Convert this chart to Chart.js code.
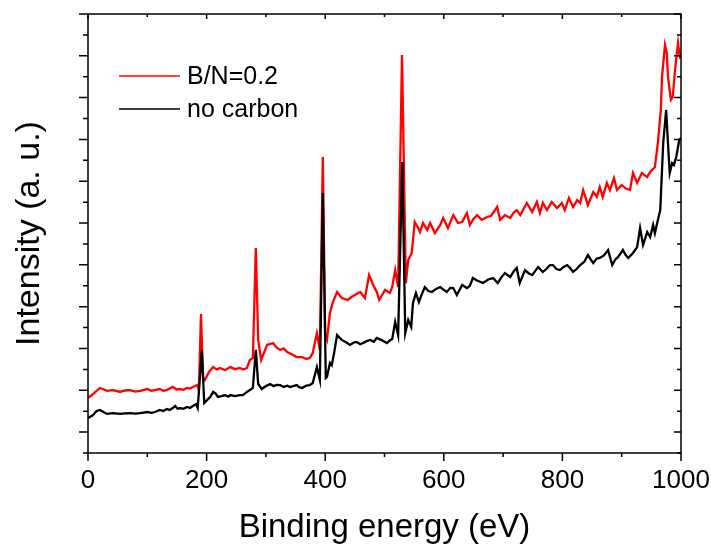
<!DOCTYPE html>
<html>
<head>
<meta charset="utf-8">
<script src="https://cdn.jsdelivr.net/npm/chart.js@4.4.1/dist/chart.umd.min.js"></script>
<style>
html, body { margin: 0; padding: 0; background: #fff; }
#wrap { width: 711px; height: 544px; }
</style>
</head>
<body>
<div id="wrap"><canvas id="chart" width="711" height="544"></canvas></div>
<script>
// XPS survey spectra, binding energy (eV) vs intensity (a.u.)
var seriesNames = ["B/N=0.2", "no carbon"];
var seriesColors = ["#ff0000", "#000000"];

var energyRed = [0, 10, 20, 26, 32, 42, 54, 62, 71, 80, 88, 100, 107, 113, 121, 127, 133, 143, 149, 155, 161, 167, 172, 177, 184, 187, 190.5, 194, 197, 204, 211, 217, 223, 231, 240, 248, 256, 262, 268, 273, 278, 283, 287, 292, 302, 312, 318, 324, 330, 336, 346, 352, 361, 368, 374, 379, 386, 391, 396, 400, 403, 408, 413, 420, 428, 438, 444, 450, 459, 467, 474, 481, 487, 491, 501, 509, 513, 518, 523, 529.5, 536, 540, 546, 551, 556, 560, 565, 572, 577, 585, 594, 599, 607, 616, 624, 631, 639, 644, 650, 656, 664, 673, 680, 690, 695, 703, 712, 718, 723, 729, 740, 749, 757, 762, 767, 774, 782, 791, 799, 804, 811, 818, 825, 830, 835, 843, 852, 858, 863, 868, 875, 880, 887, 892, 900, 907, 914, 919, 926, 934, 943, 948, 956, 961, 966, 968, 973, 976, 978, 983, 986, 990, 993, 995, 998, 1000];
var intensityRed = [263, 285, 311, 305, 297, 301, 292, 299, 301, 294, 297, 306, 298, 301, 306, 298, 301, 316, 304, 306, 302, 311, 308, 316, 325, 301, 665, 359, 349, 387, 411, 400, 407, 396, 411, 401, 407, 399, 407, 445, 454, 981, 541, 445, 517, 526, 505, 493, 500, 483, 469, 459, 459, 450, 454, 478, 574, 493, 1416, 564, 541, 670, 722, 770, 741, 732, 745, 756, 770, 741, 851, 804, 770, 732, 780, 765, 794, 875, 794, 1904, 813, 923, 957, 1105, 1080, 1057, 1100, 1067, 1100, 1052, 1091, 1124, 1076, 1138, 1100, 1105, 1148, 1091, 1120, 1138, 1115, 1129, 1135, 1177, 1115, 1138, 1124, 1150, 1162, 1138, 1196, 1153, 1201, 1148, 1196, 1162, 1201, 1172, 1196, 1162, 1220, 1177, 1210, 1196, 1258, 1186, 1248, 1225, 1272, 1225, 1292, 1258, 1315, 1258, 1282, 1265, 1258, 1339, 1292, 1339, 1320, 1344, 1368, 1483, 1641, 1799, 1952, 1913, 1799, 1689, 1703, 1832, 1913, 1961, 1894, 1900];

var energyBlack = [0, 8, 14, 20, 26, 32, 42, 54, 62, 71, 80, 88, 100, 107, 113, 121, 127, 133, 138, 143, 147, 151, 155, 161, 167, 172, 177, 182, 185, 192, 196, 201, 206, 211, 215, 219, 225, 231, 237, 240, 248, 256, 261, 267, 273, 278, 283, 287, 293, 300, 307, 313, 318, 324, 330, 336, 341, 346, 352, 356, 361, 368, 374, 379, 386, 391, 396, 401, 403, 408, 411, 415, 420, 424, 428, 435, 442, 448, 453, 459, 464, 470, 476, 482, 487, 495, 504, 509, 513, 518, 523, 530, 535, 540, 545, 548, 553, 558, 563, 568, 574, 580, 587, 594, 600, 605, 611, 616, 622, 631, 639, 644, 649, 656, 666, 675, 683, 691, 697, 703, 712, 718, 723, 728, 737, 743, 749, 754, 759, 767, 773, 779, 784, 790, 796, 802, 808, 813, 818, 824, 830, 837, 843, 848, 852, 858, 863, 870, 877, 884, 889, 894, 902, 906, 911, 919, 926, 931, 936, 943, 948, 953, 956, 961, 965, 970, 975, 978, 981, 985, 988, 992, 997, 1000];
var intensityBlack = [167, 180, 200, 206, 196, 187, 191, 187, 190, 191, 188, 191, 196, 192, 196, 206, 201, 210, 206, 215, 225, 212, 215, 212, 220, 215, 225, 234, 215, 493, 239, 254, 268, 292, 285, 268, 272, 277, 270, 277, 272, 277, 277, 290, 301, 311, 493, 330, 306, 320, 330, 320, 326, 325, 316, 322, 316, 320, 325, 315, 311, 322, 325, 335, 411, 349, 1244, 359, 364, 431, 420, 478, 564, 552, 541, 530, 517, 528, 531, 520, 526, 535, 541, 532, 550, 540, 526, 538, 545, 627, 564, 1392, 574, 636, 603, 718, 765, 722, 760, 794, 775, 770, 785, 794, 780, 770, 790, 789, 756, 804, 789, 800, 837, 825, 813, 830, 837, 813, 840, 861, 842, 870, 885, 813, 875, 860, 851, 870, 890, 866, 880, 899, 899, 880, 875, 890, 899, 885, 866, 880, 899, 915, 947, 925, 909, 930, 933, 945, 971, 899, 925, 938, 971, 950, 933, 957, 985, 1076, 995, 1057, 1033, 1091, 1052, 1115, 1162, 1483, 1641, 1483, 1339, 1387, 1378, 1416, 1497, 1507];

var xMin = 0, xMax = 1000, xStep = 100, xLabelStep = 200;
var yMin = 0, yMax = 2100, yStep = 100;

function toPoints(xs, ys) {
	return xs.map(function(x, i) { return {x: x, y: ys[i]}; });
}

var fontFamily = "'Liberation Sans', Arial, Helvetica, sans-serif";

// box around the plot, ticks on all four sides, and the legend inside
var framePlugin = {
	id: 'frame',
	afterDraw: function(chart) {
		var ctx = chart.ctx;
		var a = chart.chartArea;
		var xs = chart.scales.x, ys = chart.scales.y;
		ctx.save();
		ctx.strokeStyle = '#000';
		ctx.lineWidth = 1.5;
		ctx.strokeRect(a.left, a.top, a.right - a.left, a.bottom - a.top);
		ctx.beginPath();
		for (var v = xMin; v <= xMax; v += xStep) {
			var px = xs.getPixelForValue(v);
			var major = v % xLabelStep === 0;
			ctx.moveTo(px, a.bottom); ctx.lineTo(px, a.bottom + (major ? 8 : 4));
			ctx.moveTo(px, a.top); ctx.lineTo(px, a.top + (major ? 5 : 3));
		}
		for (var w = yMin; w <= yMax; w += yStep) {
			var py = ys.getPixelForValue(w);
			var maj = (w / yStep) % 2 === 1;
			ctx.moveTo(a.left, py); ctx.lineTo(a.left - (maj ? 9 : 5), py);
			ctx.moveTo(a.right, py); ctx.lineTo(a.right - (maj ? 7 : 4), py);
		}
		ctx.stroke();

		// legend
		ctx.font = "25px " + fontFamily;
		ctx.textBaseline = 'middle';
		ctx.fillStyle = '#000';
		chart.data.datasets.forEach(function(ds, i) {
			var ly = 76 + i * 33;
			ctx.beginPath();
			ctx.strokeStyle = ds.borderColor;
			ctx.lineWidth = 1.5;
			ctx.moveTo(119, ly); ctx.lineTo(180, ly);
			ctx.stroke();
			ctx.fillText(ds.label, 187, ly + 1);
		});
		ctx.restore();
	}
};

var ctx = document.getElementById('chart').getContext('2d');
new Chart(ctx, {
	type: 'line',
	data: {
		datasets: [{
			label: seriesNames[0],
			data: toPoints(energyRed, intensityRed),
			borderColor: seriesColors[0],
			borderWidth: 2.3,
			pointRadius: 0,
			order: 2
		}, {
			label: seriesNames[1],
			data: toPoints(energyBlack, intensityBlack),
			borderColor: seriesColors[1],
			borderWidth: 2.3,
			pointRadius: 0,
			order: 1
		}]
	},
	options: {
		responsive: false,
		devicePixelRatio: 1,
		animation: false,
		layout: { padding: { left: 0, top: 14, right: 30, bottom: 0 } },
		plugins: {
			legend: { display: false },
			tooltip: { enabled: false }
		},
		scales: {
			x: {
				type: 'linear',
				min: xMin,
				max: xMax,
				afterFit: function(s) { s.height = 91; s.paddingLeft = 0; s.paddingRight = 0; },
				grid: { display: false, drawTicks: false },
				border: { display: false },
				ticks: {
					stepSize: xStep,
					autoSkip: false,
					maxRotation: 0,
					padding: 12,
					color: '#000',
					font: { size: 26, family: fontFamily },
					callback: function(v) { return v % xLabelStep === 0 ? v : ''; }
				},
				title: {
					display: true,
					text: 'Binding energy (eV)',
					color: '#000',
					font: { size: 33, family: fontFamily, lineHeight: 1 },
					padding: { top: 0, bottom: 0 }
				}
			},
			y: {
				type: 'linear',
				min: yMin,
				max: yMax,
				afterFit: function(s) { s.width = 88; },
				grid: { display: false, drawTicks: false },
				border: { display: false },
				ticks: { display: false, stepSize: yStep },
				title: {
					display: true,
					text: 'Intensity (a. u.)',
					color: '#000',
					font: { size: 34, family: fontFamily, lineHeight: 1 },
					padding: { top: 13, bottom: 0 }
				}
			}
		}
	},
	plugins: [framePlugin]
});
</script>
</body>
</html>
